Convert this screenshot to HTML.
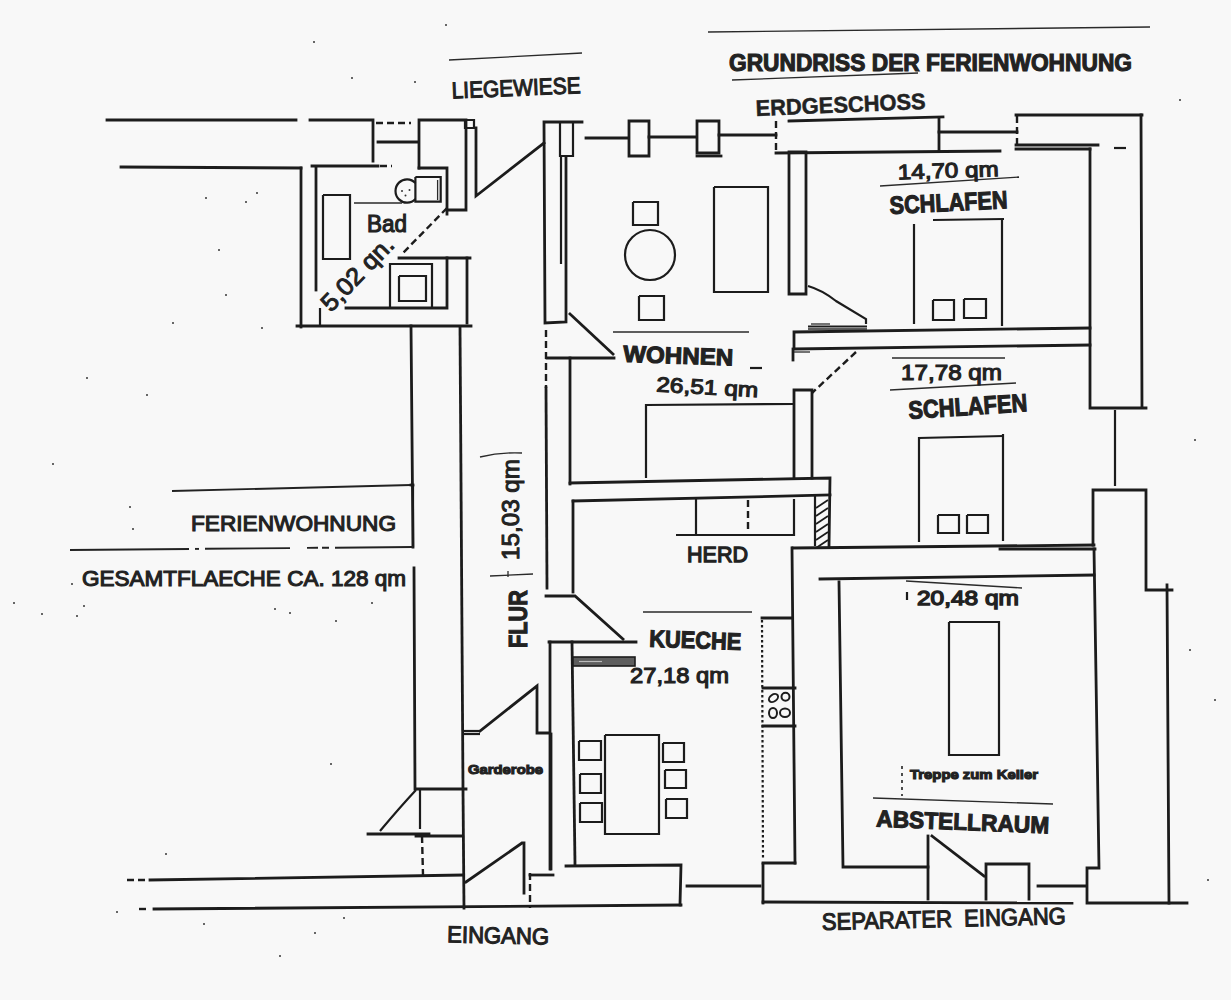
<!DOCTYPE html>
<html><head><meta charset="utf-8"><title>Grundriss</title>
<style>
html,body{margin:0;padding:0;background:#f8f8f8;}
svg{display:block;}
.w path{stroke:#1c1c1c;stroke-width:2.8;fill:none;stroke-linecap:square;}
.w{stroke:#1c1c1c;stroke-width:2.8;fill:none;}
.f{stroke:#1c1c1c;stroke-width:2.2;fill:none;}
.t{stroke:#2a2a2a;stroke-width:1.3;fill:none;}
.d{stroke:#1c1c1c;stroke-width:2.4;fill:none;stroke-dasharray:7 4;}
text{font-family:"Liberation Sans",sans-serif;fill:#222;stroke:#222;stroke-width:1.1px;}
text.b{font-weight:bold;stroke-width:1.1px;}
</style></head>
<body>
<svg width="1231" height="1000" viewBox="0 0 1231 1000">
<rect x="0" y="0" width="1231" height="1000" fill="#f8f8f8"/>
<g class="w"><path d="M107,120 L296,120"/><path d="M310,120 L373,120 L373,161"/><path d="M378,142 L418,142"/><path d="M419,168 L419,120 L466,120 L466,210 L447,210"/><path d="M419,168 L447,168 L447,214"/><path d="M476,128 L476,196 L544,143"/><path d="M582,122 L544,122 L545,323 L566,322 L566,157"/><path d="M586,138 L628,138"/><path d="M629,121 L649,121 L649,156 L629,156 L629,121"/><path d="M649,137 L695,137"/><path d="M697,121 L719,121 L719,153 L697,153 L697,121"/><path d="M697,156 L721,156"/><path d="M719,135 L776,135"/><path d="M789,121 L943,117"/><path d="M776,153 L1000,151"/><path d="M939,118 L939,150"/><path d="M939,132 L1017,132"/><path d="M1016,115 L1142,115"/><path d="M1016,145 L1098,145"/><path d="M1016,149 L1090,149"/><path d="M1141,115 L1142,407"/><path d="M1090,149 L1090,408 L1146,408"/><path d="M1093,545 L1093,490 L1146,490 L1146,590 L1172,590"/><path d="M1167,585 L1169,903"/><path d="M789,152 L806,152 L806,294 L789,294 L789,152"/><path d="M1090,328 L794,332 L794,349 L1090,345"/><path d="M793,349 L793,360"/><path d="M794,478 L794,390 L812,390 L812,478"/><path d="M121,167 L301,168"/><path d="M301,168 L301,327"/><path d="M316,167 L316,290"/><path d="M312,166 L378,166"/><path d="M399,258 L470,258"/><path d="M467,258 L467,323"/><path d="M447,258 L447,308 L346,308"/><path d="M297,326 L471,326"/><path d="M570,314 L613,354"/><path d="M547,358 L614,358"/><path d="M570,358 L570,484"/><path d="M546,388 L547,588"/><path d="M570,483 L830,478 L829,546"/><path d="M573,501 L830,495"/><path d="M573,501 L573,592"/><path d="M546,596 L575,596 L623,639"/><path d="M549,642 L636,642"/><path d="M550,642 L550,869"/><path d="M572,642 L575,864"/><path d="M793,548 L1094,545"/><path d="M1000,549 L1095,549"/><path d="M792,548 L795,863"/><path d="M820,579 L1094,575"/><path d="M839,582 L843,867 L928,867"/><path d="M762,618 L792,618"/><path d="M763,688 L795,688"/><path d="M763,726 L795,726"/><path d="M763,863 L795,863"/><path d="M566,866 L681,865 L680,905"/><path d="M1094,549 L1099,868 L1087,868 L1087,903 L1187,903"/><path d="M928,836 L928,899"/><path d="M932,836 L984,876"/><path d="M986,899 L986,864 L1029,864 L1029,899"/><path d="M1038,886 L1085,886"/><path d="M763,902 L1072,903"/><path d="M763,864 L763,903"/><path d="M687,886 L760,886"/><path d="M460,327 L463,788"/><path d="M411,326 L413,547"/><path d="M414,568 L415,789 L466,789"/><path d="M463,790 L464,908"/><path d="M480,731 L537,686 L537,733 L548,733"/><path d="M368,834 L429,834"/><path d="M416,836 L462,836"/><path d="M150,880 L463,875"/><path d="M154,909 L681,905"/><path d="M466,882 L522,843 L524,843 L524,893"/><path d="M530,875 L553,875"/><path d="M551,734 L551,869"/><path d="M411,485 L413,485"/></g>
<g class="f"><path d="M465,120 L474,120 L474,128 L465,128 L465,120"/><path d="M560,122 L573,122 L573,156 L560,156 L560,122"/><path d="M561,157 L561,264"/><path d="M1115,410 L1115,486"/><path d="M808,326.5 L867,326.5"/><path d="M323,195 L350,195 L350,259 L323,259 L323,195"/><path d="M415.4,177 L440.7,177 L440.7,201.7 L415.4,201.7 L415.4,177"/><path d="M390,307 L390,264 L432,264 L432,307"/><path d="M399,276 L426,276 L426,301 L399,301 L399,276"/><path d="M320,308 L320,326"/><path d="M633,202 L658,202 L658,225 L633,225 L633,202"/><path d="M639,296 L664,296 L664,320 L639,320 L639,296"/><path d="M714,187 L768,187 L768,292 L714,292 L714,187"/><path d="M646,478 L646,405 L794,404"/><path d="M815,495 L815,546"/><path d="M696,499 L696,534"/><path d="M794,499 L794,535 L676,535"/><path d="M949,622 L999,622 L999,755 L949,755 L949,622"/><path d="M605,735 L659,735 L659,834 L605,834 L605,735"/><path d="M579,741 L601,741 L601,760 L579,760 L579,741"/><path d="M580,774 L601,774 L601,793 L580,793 L580,774"/><path d="M580,803 L602,803 L602,822 L580,822 L580,803"/><path d="M663,743 L684,743 L684,762 L663,762 L663,743"/><path d="M665,770 L686,770 L686,788 L665,788 L665,770"/><path d="M666,799 L687,799 L687,818 L666,818 L666,799"/><path d="M462,731 L480,731"/><path d="M462,734 L480,734"/><path d="M420,790 L420,829"/><path d="M413,485 L413,547"/><path d="M914,224 L914,324"/><path d="M933,220 L1004,219"/><path d="M1002,220 L1002,326"/><path d="M933,300 L954,300 L954,320 L933,320 L933,300"/><path d="M964,299 L986,299 L986,318 L964,318 L964,299"/><path d="M919,542 L919,438 L1004,436"/><path d="M1003,434 L1003,541"/><path d="M938,515 L959,515 L959,533 L938,533 L938,515"/><path d="M967,515 L988,515 L988,533 L967,533 L967,515"/><path d="M750,368 L762,368"/><path d="M1114,148 L1126,148"/><path d="M907,592 L907,600"/></g>
<g class="t"><path d="M708,32 L1150,27"/><path d="M732,80 L918,73"/><path d="M449,60 L582,53"/><path d="M811,324 L830,324"/><path d="M808,329 L867,329"/><path d="M794,352 L810,352"/><path d="M354,203 L402,203"/><path d="M437.6,180 L437.6,200"/><path d="M613,332 L749,332"/><path d="M643,612 L752,612"/><path d="M490,576 L533,574"/><path d="M508,571 L508,577"/><path d="M906,581 L1022,588"/><path d="M873,798 L1053,804"/><path d="M892,358 L1005,358"/><path d="M890,390 L1016,383"/><path d="M880,186 L1019,177"/></g>
<g class="d"><path d="M376,123 L411,123"/><path d="M776,121 L776,150"/><path d="M1017,116 L1017,145"/><path d="M856,352 L812,393"/><path d="M380,166 L392,166"/><path d="M447,208 L402,254"/><path d="M546,330 L546,388"/><path d="M748,500 L748,532"/><path d="M422,836 L423,875"/><path d="M127,880 L146,880"/><path d="M139,909 L149,909"/><path d="M530,873 L530,908"/></g>
<path class="f" d="M808,286 Q822,290 836,301 L866,319 L866,324"/><path class="f" d="M415.4,183 A11.5,11.7 0 1,0 415.4,199"/><circle cx="402" cy="191" r="1" fill="#333"/><circle cx="409.5" cy="190" r="1" fill="#333"/><circle cx="405.5" cy="195.5" r="1" fill="#333"/><circle class="f" cx="650" cy="255" r="25"/><path class="f" style="stroke-width:1.8" d="M816,508 L828,500"/><path class="f" style="stroke-width:1.8" d="M816,516 L828,508"/><path class="f" style="stroke-width:1.8" d="M816,524 L828,516"/><path class="f" style="stroke-width:1.8" d="M816,532 L828,524"/><path class="f" style="stroke-width:1.8" d="M816,540 L828,532"/><path class="f" style="stroke-width:1.8" d="M816,548 L828,540"/><rect x="573" y="657" width="62" height="9" fill="#5e5e5e" stroke="#1c1c1c" stroke-width="1.6"/><path d="M579,661.5 L602,661.5" stroke="#bbb" stroke-width="1.2"/><path d="M762,620 L763,860" stroke="#1c1c1c" stroke-width="2.2" stroke-dasharray="2.5 2.5" fill="none"/><ellipse cx="773.5" cy="698" rx="5" ry="3.4" transform="rotate(-35 773.5 698)" stroke="#1c1c1c" stroke-width="2" fill="none"/><ellipse cx="785.5" cy="696.8" rx="4" ry="4" transform="rotate(0 785.5 696.8)" stroke="#1c1c1c" stroke-width="2" fill="none"/><ellipse cx="773" cy="713" rx="4" ry="5" transform="rotate(0 773 713)" stroke="#1c1c1c" stroke-width="2" fill="none"/><ellipse cx="785" cy="712.8" rx="5" ry="4.3" transform="rotate(0 785 712.8)" stroke="#1c1c1c" stroke-width="2" fill="none"/><path d="M902,766 L902,796" stroke="#222" stroke-width="1.6" stroke-dasharray="3 4" fill="none"/><path class="f" d="M380,831 Q401,806 416,790"/><path d="M172,491 L411,485" stroke="#222" stroke-width="1.9" fill="none"/><path d="M70,550.0 L189,549.0" stroke="#222" stroke-width="1.9" fill="none"/><path d="M195,548.9 L199,548.9" stroke="#222" stroke-width="1.9" fill="none"/><path d="M205,548.8 L290,548.1" stroke="#222" stroke-width="1.9" fill="none"/><path d="M307,547.9 L318,547.8" stroke="#222" stroke-width="1.9" fill="none"/><path d="M322,547.8 L329,547.7" stroke="#222" stroke-width="1.9" fill="none"/><path d="M335,547.7 L413,547.0" stroke="#222" stroke-width="1.9" fill="none"/><path class="t" d="M480,457 Q500,452 522,453"/><rect x="205" y="197" width="2" height="2" fill="#666"/><rect x="245" y="201" width="2" height="2" fill="#666"/><rect x="256" y="192" width="2" height="2" fill="#666"/><rect x="218" y="249" width="2" height="2" fill="#666"/><rect x="225" y="294" width="2" height="2" fill="#666"/><rect x="172" y="322" width="2" height="2" fill="#666"/><rect x="261" y="327" width="2" height="2" fill="#666"/><rect x="86" y="377" width="2" height="2" fill="#666"/><rect x="146" y="394" width="2" height="2" fill="#666"/><rect x="52" y="463" width="2" height="2" fill="#666"/><rect x="129" y="506" width="2" height="2" fill="#666"/><rect x="132" y="528" width="2" height="2" fill="#666"/><rect x="71" y="583" width="2" height="2" fill="#666"/><rect x="83" y="605" width="2" height="2" fill="#666"/><rect x="76" y="615" width="2" height="2" fill="#666"/><rect x="274" y="608" width="2" height="2" fill="#666"/><rect x="289" y="612" width="2" height="2" fill="#666"/><rect x="13" y="602" width="2" height="2" fill="#666"/><rect x="41" y="613" width="2" height="2" fill="#666"/><rect x="335" y="620" width="2" height="2" fill="#666"/><rect x="371" y="602" width="2" height="2" fill="#666"/><rect x="330" y="763" width="2" height="2" fill="#666"/><rect x="116" y="911" width="2" height="2" fill="#666"/><rect x="203" y="923" width="2" height="2" fill="#666"/><rect x="314" y="932" width="2" height="2" fill="#666"/><rect x="165" y="853" width="2" height="2" fill="#666"/><rect x="343" y="917" width="2" height="2" fill="#666"/><rect x="279" y="955" width="2" height="2" fill="#666"/><rect x="445" y="24" width="2" height="2" fill="#666"/><rect x="313" y="41" width="2" height="2" fill="#666"/><rect x="351" y="77" width="2" height="2" fill="#666"/><rect x="414" y="81" width="2" height="2" fill="#666"/><rect x="1179" y="99" width="2" height="2" fill="#666"/><rect x="1194" y="439" width="2" height="2" fill="#666"/><rect x="1231" y="499" width="2" height="2" fill="#666"/><rect x="1214" y="699" width="2" height="2" fill="#666"/><rect x="1189" y="649" width="2" height="2" fill="#666"/><rect x="1207" y="879" width="2" height="2" fill="#666"/>
<g><text x="729" y="71" font-size="23.3" textLength="403" lengthAdjust="spacingAndGlyphs" class="b">GRUNDRISS DER FERIENWOHNUNG</text><text x="756" y="116" font-size="22.5" textLength="170" lengthAdjust="spacingAndGlyphs" class="b" style="stroke-width:0.5px" transform="rotate(-2.4 756 116)">ERDGESCHOSS</text><text x="452" y="98.5" font-size="23.1" textLength="129" lengthAdjust="spacingAndGlyphs" transform="rotate(-2.4 452 98.5)">LIEGEWIESE</text><text x="898" y="179.4" font-size="21" textLength="101" lengthAdjust="spacingAndGlyphs" transform="rotate(-1.9 898 179.4)">14,70 qm</text><text x="890" y="214" font-size="25" textLength="118" lengthAdjust="spacingAndGlyphs" class="b" transform="rotate(-2.8 890 214)">SCHLAFEN</text><text x="623" y="361.7" font-size="23.3" textLength="110" lengthAdjust="spacingAndGlyphs" class="b" transform="rotate(2.0 623 361.7)">WOHNEN</text><text x="656" y="391.4" font-size="20.8" textLength="102" lengthAdjust="spacingAndGlyphs" transform="rotate(3.3 656 391.4)">26,51 qm</text><text x="901" y="380" font-size="21.4" textLength="101" lengthAdjust="spacingAndGlyphs">17,78 qm</text><text x="909" y="419" font-size="25.2" textLength="119" lengthAdjust="spacingAndGlyphs" class="b" transform="rotate(-3.8 909 419)">SCHLAFEN</text><text x="191" y="530.5" font-size="21.8" textLength="205" lengthAdjust="spacingAndGlyphs">FERIENWOHNUNG</text><text x="82" y="585.5" font-size="21.8" textLength="324" lengthAdjust="spacingAndGlyphs">GESAMTFLAECHE CA. 128 qm</text><text x="687" y="562" font-size="22.8" textLength="61" lengthAdjust="spacingAndGlyphs" style="stroke-width:1.3px">HERD</text><text x="649" y="646.7" font-size="24" textLength="92" lengthAdjust="spacingAndGlyphs" class="b" transform="rotate(2.1 649 646.7)">KUECHE</text><text x="630" y="683.1" font-size="21.5" textLength="99" lengthAdjust="spacingAndGlyphs">27,18 qm</text><text x="917" y="605" font-size="20.8" textLength="102" lengthAdjust="spacingAndGlyphs" style="stroke-width:1.4px">20,48 qm</text><text x="910" y="779" font-size="13.5" textLength="128" lengthAdjust="spacingAndGlyphs" class="b">Treppe zum Keller</text><text x="876" y="826.5" font-size="23.5" textLength="173" lengthAdjust="spacingAndGlyphs" class="b" transform="rotate(2.3 876 826.5)">ABSTELLRAUM</text><text x="822" y="930" font-size="23.8" textLength="244" lengthAdjust="spacingAndGlyphs" transform="rotate(-1.4 822 930)">SEPARATER&#160; EINGANG</text><text x="447" y="942.3" font-size="23.3" textLength="102" lengthAdjust="spacingAndGlyphs" transform="rotate(1.3 447 942.3)">EINGANG</text><text x="468" y="774" font-size="13.5" textLength="75" lengthAdjust="spacingAndGlyphs" class="b">Garderobe</text><text x="367" y="232" font-size="23.1" textLength="40" lengthAdjust="spacingAndGlyphs">Bad</text><text x="0" y="0" font-size="24.5" textLength="93" lengthAdjust="spacingAndGlyphs" style="stroke-width:1.0px" transform="translate(331 313) rotate(-46)">5,02 qn.</text><text x="0" y="0" font-size="23.5" textLength="101" lengthAdjust="spacingAndGlyphs" style="stroke-width:1.0px" transform="translate(519 560) rotate(-90)">15,03 qm</text><text x="0" y="0" font-size="26" textLength="58" lengthAdjust="spacingAndGlyphs" class="b" transform="translate(527 648) rotate(-90)">FLUR</text></g>
</svg>
</body></html>
